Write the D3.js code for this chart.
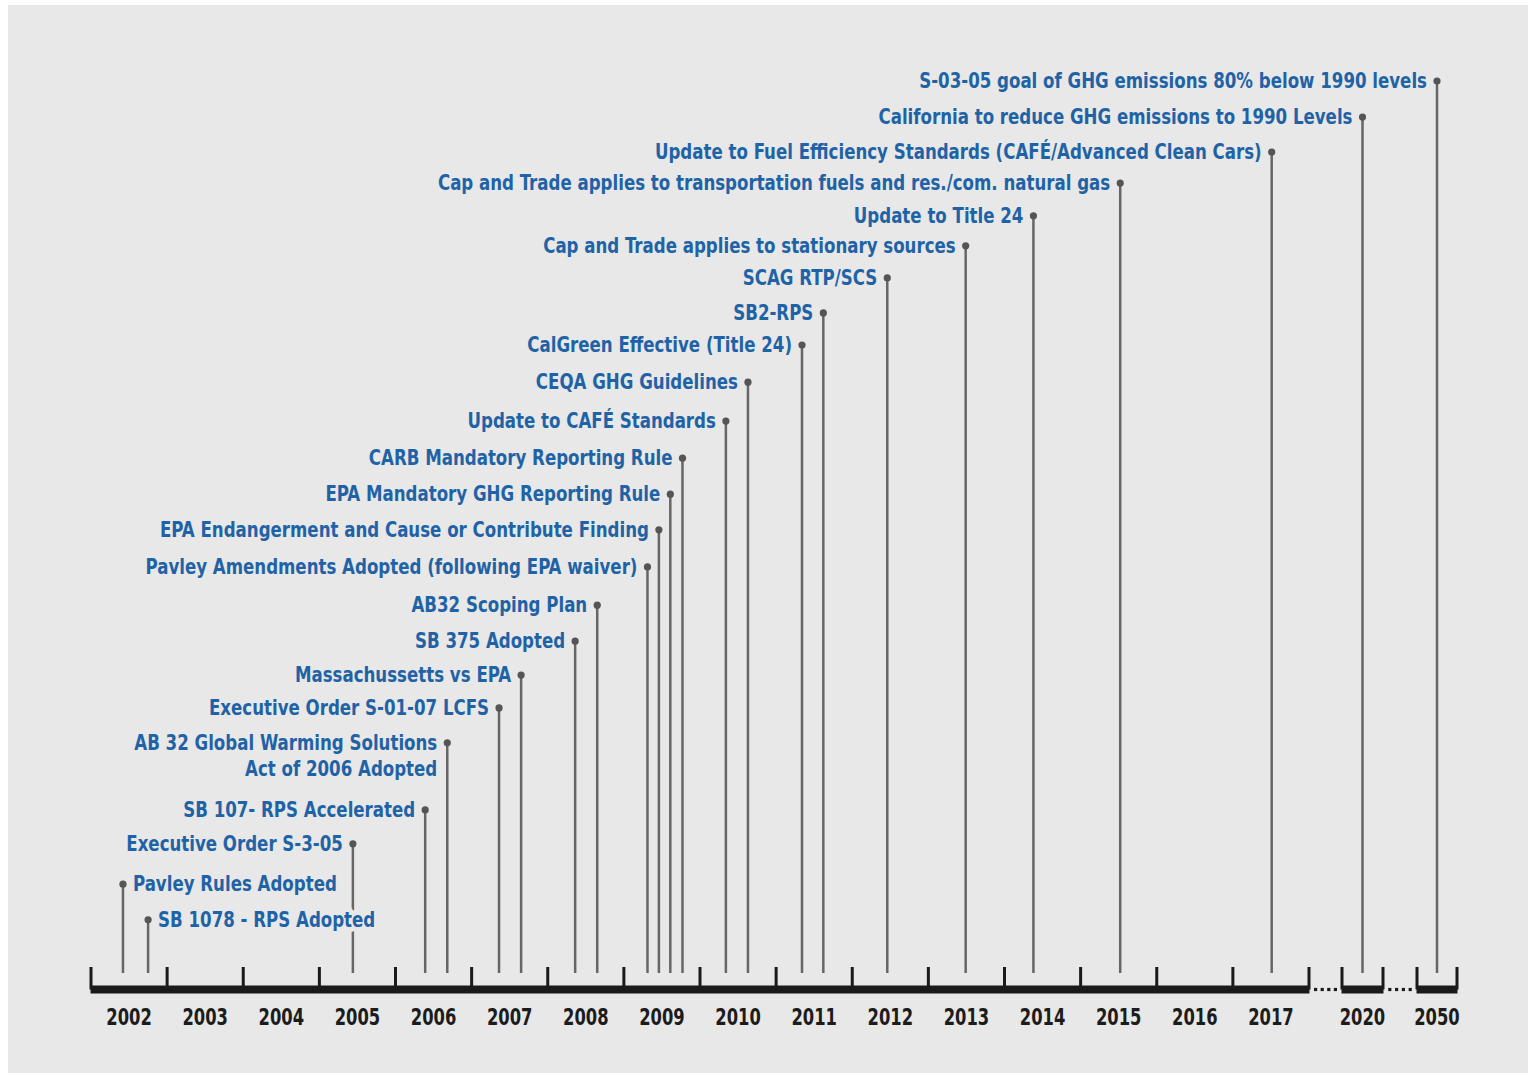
<!DOCTYPE html>
<html>
<head>
<meta charset="utf-8">
<script src="https://cdn.jsdelivr.net/npm/d3@7"></script>
<style>
  body { margin: 0; background: #fff; }
  svg { display: block; }
  .event-label { font-family: "Liberation Sans Narrow", "DejaVu Sans Condensed", sans-serif; font-weight: bold; font-size: 21px; fill: #1f63a6; }
  .halo { fill: none; stroke: #e7e8e7; stroke-width: 10; stroke-linejoin: round; }
  .year-label { font-family: "Liberation Sans Narrow", "DejaVu Sans Condensed", sans-serif; font-weight: bold; font-size: 23px; fill: #1c1c1c; }
</style>
</head>
<body>
<div id="chart"></div>
<script>
const WIDTH = 1530;
const HEIGHT = 1075;

// year labels along the axis
const years = ['2002', '2003', '2004', '2005', '2006', '2007', '2008', '2009', '2010',
  '2011', '2012', '2013', '2014', '2015', '2016', '2017', '2020', '2050'];

// events: label text, date (fractional year), stem height (arbitrary units)
const eventNames = [
  'S-03-05 goal of GHG emissions 80% below 1990 levels',
  'California to reduce GHG emissions to 1990 Levels',
  'Update to Fuel Efficiency Standards (CAFÉ/Advanced Clean Cars)',
  'Cap and Trade applies to transportation fuels and res./com. natural gas',
  'Update to Title 24',
  'Cap and Trade applies to  stationary sources',
  'SCAG RTP/SCS',
  'SB2-RPS',
  'CalGreen Effective (Title 24)',
  'CEQA GHG Guidelines',
  'Update to CAFÉ Standards',
  'CARB Mandatory Reporting Rule',
  'EPA Mandatory GHG Reporting Rule',
  'EPA Endangerment  and Cause or Contribute Finding',
  'Pavley Amendments Adopted (following EPA waiver)',
  'AB32 Scoping Plan',
  'SB 375 Adopted',
  'Massachussetts vs EPA',
  'Executive Order S-01-07 LCFS',
  'AB 32 Global Warming Solutions|Act of 2006 Adopted',
  'SB 107- RPS Accelerated',
  'Executive Order S-3-05',
  'Pavley Rules Adopted',
  'SB 1078 - RPS Adopted'
];
const eventDates = [
  2050.5, 2020.5, 2017.51, 2015.52, 2014.38, 2013.49, 2012.46, 2011.62,
  2011.34, 2010.63, 2010.34, 2009.77, 2009.61, 2009.46, 2009.31, 2008.65,
  2008.36, 2007.65, 2007.36, 2006.68, 2006.39, 2005.44, 2002.42, 2002.75
];
const eventHeights = [
  25.0, 23.99, 23.01, 22.14, 21.22, 20.38, 19.48, 18.50,
  17.60, 16.56, 15.47, 14.43, 13.42, 12.42, 11.38, 10.31,
  9.30, 8.35, 7.43, 6.45, 4.57, 3.62, 2.49, 1.49
];

// labels placed on the right side of their stem
const rightLabels = new Set(['Pavley Rules Adopted', 'SB 1078 - RPS Adopted']);

// the available fonts are wider than the condensed face of the original
const LABEL_SQUEEZE = 0.88;
const YEAR_SQUEEZE = 0.79;

const events = eventNames.map((name, i) => ({
  name: name,
  date: eventDates[i],
  h: eventHeights[i]
}));

// broken time axis: 2002-2018, then 2020, then 2050
const x = d3.scaleLinear()
  .domain([2002, 2018, 2020, 2021, 2050, 2051])
  .range([91, 1309, 1342, 1383, 1417, 1457]);

const AXIS_Y = 989.5;
const y = d3.scaleLinear().domain([0, 25]).range([973, 81]);

const svg = d3.select('#chart').append('svg')
  .attr('width', WIDTH)
  .attr('height', HEIGHT);

svg.append('rect')
  .attr('x', 8).attr('y', 5)
  .attr('width', 1520).attr('height', 1068)
  .attr('fill', '#e7e8e7');

function squeeze(sel, k) {
  sel.each(function () {
    const len = this.getComputedTextLength();
    d3.select(this)
      .attr('textLength', len * k)
      .attr('lengthAdjust', 'spacingAndGlyphs');
  });
}

// axis segments
const segments = [[2002, 2018], [2020, 2021], [2050, 2051]];
const axis = svg.append('g').attr('class', 'axis');

axis.selectAll('line.seg')
  .data(segments).enter()
  .append('line')
  .attr('class', 'seg')
  .attr('x1', d => x(d[0]) - 0.5)
  .attr('x2', d => x(d[1]) + 0.5)
  .attr('y1', AXIS_Y).attr('y2', AXIS_Y)
  .attr('stroke', '#1a1a1a')
  .attr('stroke-width', 8)
  .attr('stroke-linecap', 'butt');

const tickValues = d3.range(2002, 2019).concat([2020, 2021, 2050, 2051]);
axis.selectAll('line.tick')
  .data(tickValues).enter()
  .append('line')
  .attr('class', 'tick')
  .attr('x1', d => x(d)).attr('x2', d => x(d))
  .attr('y1', 967).attr('y2', AXIS_Y)
  .attr('stroke', '#1a1a1a')
  .attr('stroke-width', 3);

// dotted gaps
const gaps = [[2018, 2020], [2021, 2050]];
gaps.forEach(g => {
  const a = x(g[0]), b = x(g[1]);
  const n = 4;
  const step = (b - a) / (n + 1);
  axis.selectAll(null)
    .data(d3.range(1, n + 1)).enter()
    .append('rect')
    .attr('x', d => a + d * step - 1.6)
    .attr('y', AXIS_Y - 1.6)
    .attr('width', 3.2).attr('height', 3.2)
    .attr('fill', '#1a1a1a');
});

// year labels centred in their band
const yearPos = years.map(yr => +yr + 0.5);
axis.selectAll('text.year-label')
  .data(years).enter()
  .append('text')
  .attr('class', 'year-label')
  .attr('x', (d, i) => x(yearPos[i]))
  .attr('y', 1025)
  .attr('text-anchor', 'middle')
  .text(d => d)
  .call(squeeze, YEAR_SQUEEZE);

// stems
const stems = svg.append('g').attr('class', 'stems');
stems.selectAll('line')
  .data(events).enter()
  .append('line')
  .attr('x1', d => x(d.date)).attr('x2', d => x(d.date))
  .attr('y1', d => y(d.h)).attr('y2', y(0))
  .attr('stroke', '#666')
  .attr('stroke-width', 2.5);

stems.selectAll('circle')
  .data(events).enter()
  .append('circle')
  .attr('cx', d => x(d.date))
  .attr('cy', d => y(d.h))
  .attr('r', 3.6)
  .attr('fill', '#555');

// labels: a halo layer first (stems break behind the text), then the text
function drawLabels(cls) {
  const g = svg.append('g').attr('class', cls);
  g.selectAll('text')
    .data(events).enter()
    .append('text')
    .attr('class', `event-label ${cls}`)
    .attr('x', d => rightLabels.has(d.name) ? x(d.date) + 10 : x(d.date) - 10)
    .attr('y', d => y(d.h) + 7)
    .attr('text-anchor', d => rightLabels.has(d.name) ? 'start' : 'end')
    .each(function (d) {
      const t = d3.select(this);
      d.name.split('|').forEach((ln, i) => {
        t.append('tspan')
          .attr('x', t.attr('x'))
          .attr('dy', i === 0 ? 0 : 26)
          .text(ln);
      });
    });
  g.selectAll('tspan').call(squeeze, LABEL_SQUEEZE);
}

drawLabels('halo');
drawLabels('text');
</script>
</body>
</html>
